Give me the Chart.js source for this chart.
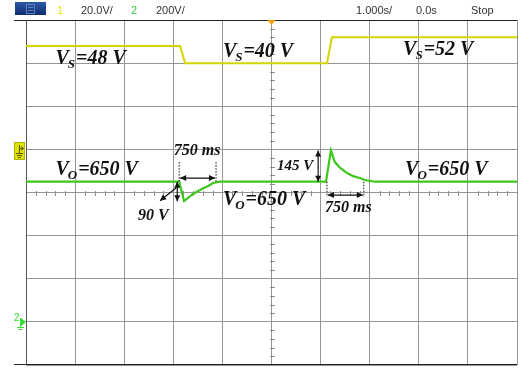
<!DOCTYPE html>
<html><head><meta charset="utf-8">
<script src="https://cdn.jsdelivr.net/npm/chart.js@4"></script>
<style>html,body{margin:0;padding:0;background:#fff}#wrap{width:531px;height:368px}</style>
</head><body><div id="wrap"><canvas id="c" width="531" height="368"></canvas></div>
<script>
// Channel 1: source voltage Vs, 20 V/div, time in seconds (1 s/div)
const ch1Time  = [-5, -1.86, -1.76, 1.13, 1.23, 5];
const ch1Volts = [48, 48, 40, 40, 52, 52];

// Channel 2: output voltage Vo, 200 V/div
const ch2Time  = [-5, -1.88, -1.78, -1.60, -1.42, -1.29, -1.19, -1.05, 1.11, 1.21, 1.29, 1.40, 1.54, 1.66, 1.80, 1.90, 2.11, 5];
const ch2Volts = [650, 650, 560, 593, 616, 630, 644, 650, 650, 795, 741, 714, 690, 676, 667, 658, 650, 650];

// Scope header readouts
const ch1Scale = '20.0V/';
const ch2Scale = '200V/';
const timeScale = '1.000s/';
const timeDelay = '0.0s';
const runState = 'Stop';

// Transient figures quoted on the plot
const dipVolts = 90, overshootVolts = 145, settleSec = 0.75;
const dipStart = -1.88, riseStart = 1.11;

const pts = (t, v) => t.map((x, i) => ({x, y: v[i]}));

function subText(ctx, x, y, main, sub, rest, size) {
  size = size || 20;
  ctx.font = `bold italic ${size}px "Liberation Serif", serif`;
  ctx.fillText(main, x, y);
  let w = ctx.measureText(main).width;
  ctx.font = `bold italic ${Math.round(size * 0.65)}px "Liberation Serif", serif`;
  ctx.fillText(sub, x + w - 1, y + 4);
  w += ctx.measureText(sub).width;
  ctx.font = `bold italic ${size}px "Liberation Serif", serif`;
  ctx.fillText(rest, x + w, y);
}

function arrowHead(ctx, x, y, ang) {
  const L = 6, W = 3;
  ctx.beginPath();
  ctx.moveTo(x, y);
  ctx.lineTo(x - L * Math.cos(ang) + W * Math.sin(ang), y - L * Math.sin(ang) - W * Math.cos(ang));
  ctx.lineTo(x - L * Math.cos(ang) - W * Math.sin(ang), y - L * Math.sin(ang) + W * Math.cos(ang));
  ctx.closePath();
  ctx.fill();
}
function arrow(ctx, x1, y1, x2, y2, both) {
  ctx.beginPath(); ctx.moveTo(x1, y1); ctx.lineTo(x2, y2); ctx.stroke();
  const a = Math.atan2(y2 - y1, x2 - x1);
  arrowHead(ctx, x2, y2, a);
  if (both) arrowHead(ctx, x1, y1, a + Math.PI);
}
function dotted(ctx, x, y1, y2) {
  ctx.save(); ctx.setLineDash([1.5, 1.5]); ctx.lineWidth = 1;
  ctx.beginPath(); ctx.moveTo(x, y1); ctx.lineTo(x, y2); ctx.stroke(); ctx.restore();
}

const scopeDecor = {
  id: 'scopeDecor',
  beforeDatasetsDraw(chart) {
    const {ctx, chartArea: a, scales} = chart;
    const xs = scales.x, yg = scales.yg;
    const cx = Math.round(xs.getPixelForValue(0)), cy = Math.round(yg.getPixelForValue(0));
    ctx.save();
    ctx.strokeStyle = '#8c8c8c'; ctx.lineWidth = 1;
    ctx.beginPath();
    for (let d = -4; d <= 4; d += 0.2) {
      if (Math.abs(d - Math.round(d)) < 1e-6) continue;
      const y = Math.round(yg.getPixelForValue(d)) + 0.5;
      ctx.moveTo(cx - 2, y); ctx.lineTo(cx + 3, y);
    }
    for (let t = -5; t <= 5; t += 0.2) {
      if (Math.abs(t - Math.round(t)) < 1e-6) continue;
      const x = Math.round(xs.getPixelForValue(t)) + 0.5;
      ctx.moveTo(x, cy - 2); ctx.lineTo(x, cy + 3);
    }
    ctx.stroke();
    // frame lines
    ctx.strokeStyle = '#222'; ctx.lineWidth = 1;
    ctx.beginPath();
    ctx.moveTo(14, a.top + 0.5); ctx.lineTo(a.right, a.top + 0.5);
    ctx.moveTo(14, a.bottom - 0.5); ctx.lineTo(a.right, a.bottom - 0.5);
    ctx.stroke();
    ctx.strokeStyle = '#555';
    ctx.beginPath(); ctx.moveTo(a.left + 0.5, a.top); ctx.lineTo(a.left + 0.5, a.bottom); ctx.stroke();
    ctx.restore();
  },
  afterDatasetsDraw(chart) {
    const {ctx, chartArea: a, scales} = chart;
    const xs = scales.x, yg = scales.yg, y1 = scales.y1, y2 = scales.y2;
    const X = t => xs.getPixelForValue(t), G = d => yg.getPixelForValue(d), V = v => y2.getPixelForValue(v);
    ctx.save();

    // header bar
    const g = ctx.createLinearGradient(0, 2, 0, 16);
    g.addColorStop(0, '#2f5aa8'); g.addColorStop(1, '#0b2a6a');
    ctx.fillStyle = g; ctx.fillRect(15, 2, 31, 13);
    ctx.strokeStyle = '#5c7fc0'; ctx.lineWidth = 1; ctx.strokeRect(26.5, 4.5, 8, 9);
    ctx.beginPath(); ctx.moveTo(28, 7.5); ctx.lineTo(33, 7.5); ctx.moveTo(28, 10.5); ctx.lineTo(33, 10.5); ctx.stroke();
    ctx.font = '11px "Liberation Sans", Arial, sans-serif';
    ctx.textBaseline = 'alphabetic';
    ctx.fillStyle = '#e6e600'; ctx.fillText('1', 57, 14);
    ctx.fillStyle = '#333'; ctx.fillText(ch1Scale, 81, 14);
    ctx.fillStyle = '#33cc33'; ctx.fillText('2', 131, 14);
    ctx.fillStyle = '#333'; ctx.fillText(ch2Scale, 156, 14);
    ctx.fillText(timeScale, 356, 14);
    ctx.fillText(timeDelay, 416, 14);
    ctx.fillText(runState, 471, 14);

    // trigger marker
    const tx = X(0);
    ctx.fillStyle = '#ff9a00';
    ctx.beginPath(); ctx.moveTo(tx - 4, a.top); ctx.lineTo(tx + 4, a.top); ctx.lineTo(tx, a.top + 5); ctx.closePath(); ctx.fill();

    // channel 1 ground marker
    const g1 = Math.round(y1.getPixelForValue(0));
    ctx.fillStyle = '#e2e200'; ctx.fillRect(14, g1 - 7, 11, 18);
    ctx.strokeStyle = '#b4b400'; ctx.lineWidth = 1; ctx.strokeRect(14.5, g1 - 6.5, 10, 17);
    ctx.strokeStyle = '#5a5a00';
    ctx.beginPath();
    ctx.moveTo(19.5, g1 - 4); ctx.lineTo(19.5, g1 + 4);
    ctx.moveTo(19.5, g1 - 0.5); ctx.lineTo(23, g1 - 0.5);
    ctx.moveTo(16, g1 + 4.5); ctx.lineTo(23, g1 + 4.5);
    ctx.moveTo(17, g1 + 6.5); ctx.lineTo(22, g1 + 6.5);
    ctx.moveTo(18, g1 + 8.5); ctx.lineTo(21, g1 + 8.5);
    ctx.stroke();
    ctx.fillStyle = '#5a5a00';
    ctx.beginPath(); ctx.moveTo(24, g1 - 0.5); ctx.lineTo(21.5, g1 - 3); ctx.lineTo(21.5, g1 + 2); ctx.closePath(); ctx.fill();

    // channel 2 ground marker
    const g2 = Math.round(y2.getPixelForValue(0));
    ctx.fillStyle = '#33dd33';
    ctx.font = '10px "Liberation Sans", sans-serif';
    ctx.fillText('2', 14, g2 - 1);
    ctx.beginPath(); ctx.moveTo(a.left, g2); ctx.lineTo(a.left - 5, g2 - 4); ctx.lineTo(a.left - 5, g2 + 4); ctx.closePath(); ctx.fill();
    ctx.strokeStyle = '#33dd33';
    ctx.beginPath();
    ctx.moveTo(20.5, g2 - 4); ctx.lineTo(20.5, g2 + 5);
    ctx.moveTo(17, g2 + 5.5); ctx.lineTo(24, g2 + 5.5);
    ctx.moveTo(18.5, g2 + 7.5); ctx.lineTo(22.5, g2 + 7.5);
    ctx.stroke();

    // annotations
    ctx.fillStyle = '#111'; ctx.strokeStyle = '#111'; ctx.lineWidth = 1.2;
    subText(ctx, X(-4.40), G(2.98), 'V', 'S', '=48 V');
    subText(ctx, X(-0.99), G(3.14), 'V', 'S', '=40 V');
    subText(ctx, X(2.68), G(3.19), 'V', 'S', '=52 V');
    subText(ctx, X(-4.40), G(0.41), 'V', 'O', '=650 V');
    subText(ctx, X(-0.99), G(-0.29), 'V', 'O', '=650 V');
    subText(ctx, X(2.72), G(0.41), 'V', 'O', '=650 V');

    ctx.font = 'bold italic 16px "Liberation Serif", serif';
    ctx.fillText(Math.round(settleSec * 1000) + ' ms', X(-1.99), G(0.87));
    ctx.fillText(dipVolts + ' V', X(-2.72), G(-0.64));
    ctx.font = 'bold italic 15px "Liberation Serif", serif';
    ctx.fillText(overshootVolts + ' V', X(0.11), G(0.52));
    ctx.font = 'bold italic 16px "Liberation Serif", serif';
    ctx.fillText(Math.round(settleSec * 1000) + ' ms', X(1.09), G(-0.45));

    // settling span after the dip
    dotted(ctx, X(dipStart), V(741), V(650));
    dotted(ctx, X(dipStart + settleSec), V(741), V(650));
    arrow(ctx, X(dipStart) + 1, V(667), X(dipStart + settleSec) - 1, V(667), true);
    // dip magnitude
    arrow(ctx, X(-1.92), V(650), X(-1.92), V(650 - dipVolts), true);
    arrow(ctx, X(-1.94), V(622), X(-2.27), V(562), false);
    // overshoot magnitude
    arrow(ctx, X(0.95), V(650 + overshootVolts), X(0.95), V(650), true);
    // settling span after the rise
    dotted(ctx, X(riseStart + 0.02), V(650), V(579));
    dotted(ctx, X(riseStart + 0.02 + settleSec), V(650), V(579));
    arrow(ctx, X(riseStart + 0.04), V(588), X(riseStart + settleSec), V(588), true);

    ctx.restore();
  }
};

new Chart(document.getElementById('c'), {
  type: 'line',
  data: {
    datasets: [
      {label: 'Vs', data: pts(ch1Time, ch1Volts), yAxisID: 'y1', borderColor: '#d4d400', borderWidth: 2, pointRadius: 0, tension: 0},
      {label: 'Vo', data: pts(ch2Time, ch2Volts), yAxisID: 'y2', borderColor: '#3cc81a', borderWidth: 2.2, pointRadius: 0, tension: 0}
    ]
  },
  options: {
    responsive: false,
    animation: false,
    devicePixelRatio: 1,
    layout: {padding: {left: 26, top: 20, right: 14, bottom: 3}},
    plugins: {legend: {display: false}, tooltip: {enabled: false}},
    scales: {
      x: {type: 'linear', min: -5, max: 5,
          ticks: {display: false, stepSize: 1}, grid: {color: '#969696', drawTicks: false, lineWidth: 1},
          border: {display: false}},
      yg: {type: 'linear', position: 'left', min: -4, max: 4,
           ticks: {display: false, stepSize: 1}, grid: {color: '#969696', drawTicks: false, lineWidth: 1},
           border: {display: false}},
      y1: {type: 'linear', display: false, min: -100, max: 60},
      y2: {type: 'linear', display: false, min: -200, max: 1400}
    }
  },
  plugins: [scopeDecor]
});
</script>
</body></html>
